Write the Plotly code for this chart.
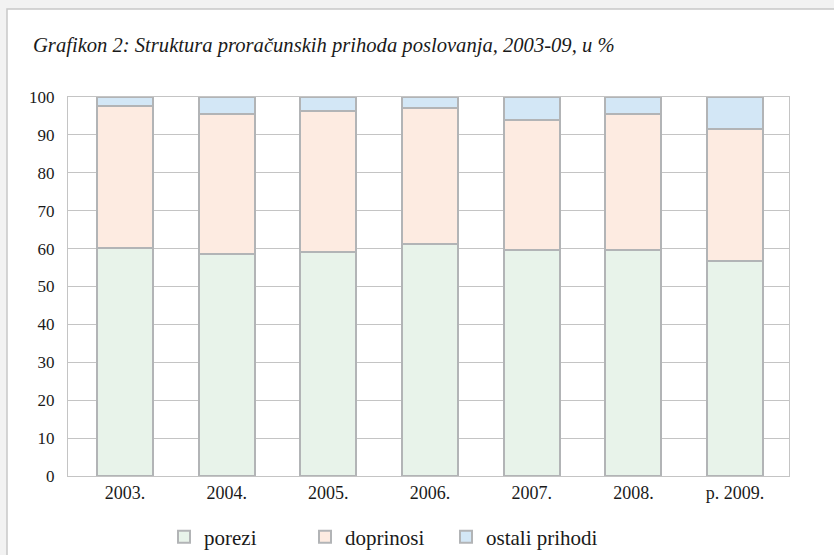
import plotly.graph_objects as go

categories = ["2003.", "2004.", "2005.", "2006.", "2007.", "2008.", "p. 2009."]
porezi = [60.1, 58.5, 59.0, 61.3, 59.6, 59.7, 56.6]
doprinosi = [37.5, 37.0, 37.3, 35.9, 34.3, 35.7, 35.0]
ostali = [2.4, 4.5, 3.7, 2.8, 6.1, 4.6, 8.4]
series_names = ["porezi", "doprinosi", "ostali prihodi"]
y_ticks = [0, 10, 20, 30, 40, 50, 60, 70, 80, 90, 100]

colors = ["#e8f3ea", "#fdebe1", "#d3e7f6"]
edge = "#b2b4b6"
grid = "#c4c4c4"
FONT = "Liberation Serif"
TXT = "#1a1a1a"

W, H = 834, 555
L, R, T, B = 68, 45, 97, 79
pw, ph = W - L - R, H - T - B

def px_x(p):
    return (p - L) / pw

def px_y(p):
    return (H - B - p) / ph

legend_ids = ["legend", "legend2", "legend3"]
legend_px = [164, 305, 446]

fig = go.Figure()
for name, vals, col, lid in zip(series_names, [porezi, doprinosi, ostali], colors, legend_ids):
    fig.add_trace(go.Bar(
        x=categories, y=vals, name=name, width=0.55, legend=lid,
        marker=dict(color=col, line=dict(color=edge, width=2)),
    ))

legend_common = dict(
    orientation="h", xanchor="left", y=px_y(537), yanchor="middle",
    font=dict(family=FONT, size=21, color=TXT), bgcolor="rgba(0,0,0,0)",
)

fig.update_layout(
    template="none",
    width=W, height=H,
    margin=dict(l=L, r=R, t=T, b=B, autoexpand=False),
    barmode="stack",
    paper_bgcolor="#f2f2f2",
    plot_bgcolor="white",
    font=dict(family=FONT, size=17, color=TXT),
    xaxis=dict(
        type="category", range=[-0.56, 6.53],
        showgrid=False, showline=True, linecolor=grid, linewidth=1, mirror=True,
        ticks="", tickfont=dict(family=FONT, size=18, color=TXT), fixedrange=True,
        automargin=False,
    ),
    yaxis=dict(
        range=[0, 100], tickvals=y_ticks, showgrid=True, gridcolor=grid, gridwidth=1,
        showline=True, linecolor=grid, linewidth=1, mirror=True, zeroline=False,
        ticks="", ticklabelstandoff=9, tickfont=dict(family=FONT, size=17, color=TXT),
        automargin=False, fixedrange=True,
    ),
    legend=dict(x=px_x(legend_px[0]), **legend_common),
    legend2=dict(x=px_x(legend_px[1]), **legend_common),
    legend3=dict(x=px_x(legend_px[2]), **legend_common),
    showlegend=True,
    shapes=[dict(
        type="rect", xref="paper", yref="paper", layer="below",
        x0=px_x(7), x1=px_x(845), y0=px_y(565), y1=px_y(9),
        fillcolor="white", line=dict(color="#c8c8c8", width=1.5),
    )],
    annotations=[dict(
        text="<i>Grafikon 2: Struktura proračunskih prihoda poslovanja, 2003-09, u %</i>",
        xref="paper", yref="paper", x=px_x(31), y=px_y(46),
        xanchor="left", yanchor="middle", showarrow=False,
        font=dict(family=FONT, size=20.6, color=TXT),
    )],
)

fig.write_html(
    "out.html",
    config={"displayModeBar": False},
    post_script="document.body.style.margin='0';document.body.style.overflow='hidden';",
)
